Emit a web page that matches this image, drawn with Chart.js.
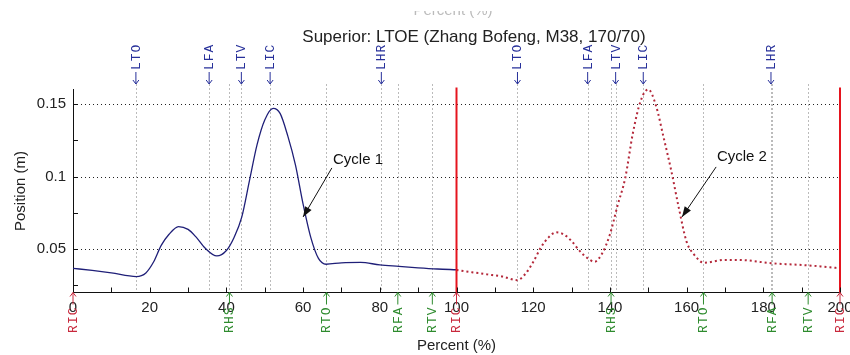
<!DOCTYPE html>
<html>
<head>
<meta charset="utf-8">
<script src="https://cdn.jsdelivr.net/npm/chart.js@4.4.0/dist/chart.umd.min.js"></script>
<style>
  html, body { margin: 0; padding: 0; background: #fff; }
  canvas { display: block; }
</style>
</head>
<body>
<canvas id="gait" width="850" height="355"></canvas>
<script>
// Toe marker vertical position over two gait cycles
const pct1 = [0, 5, 10, 16.5, 19, 21, 23, 25, 27.5, 30, 32, 34.5, 37.5, 40, 42, 44, 46, 48, 50, 52.2, 54, 56, 58, 60, 62, 64, 66, 70, 75, 80, 85, 90, 95, 100];
const pos1 = [0.0367, 0.0352, 0.0335, 0.031, 0.0335, 0.041, 0.0525, 0.060, 0.0655, 0.0635, 0.0585, 0.0505, 0.0452, 0.049, 0.058, 0.072, 0.097, 0.122, 0.139, 0.147, 0.1435, 0.128, 0.108, 0.081, 0.058, 0.0435, 0.0395, 0.0405, 0.0408, 0.039, 0.038, 0.037, 0.0362, 0.0357];
const pct2 = [100, 104, 108, 112, 115.8, 118, 120, 122, 124, 126, 128, 130, 132, 134, 136, 138, 140, 142, 144, 146, 148, 150, 152, 154, 156, 158, 160, 162, 164.5, 170, 175, 182, 190, 195, 200];
const pos2 = [0.0355, 0.034, 0.0325, 0.031, 0.0285, 0.033, 0.041, 0.051, 0.058, 0.0615, 0.060, 0.0555, 0.049, 0.044, 0.0412, 0.047, 0.060, 0.080, 0.099, 0.13, 0.152, 0.16, 0.149, 0.127, 0.104, 0.078, 0.055, 0.046, 0.0405, 0.0425, 0.0423, 0.0402, 0.039, 0.038, 0.0367];

// gait events: left foot on top, right foot below the axis
const topEvents = ['LTO', 'LFA', 'LTV', 'LIC', 'LHR', 'LTO', 'LFA', 'LTV', 'LIC', 'LHR'];
const topEventPct = [16.4, 35.5, 43.9, 51.4, 80.4, 115.9, 134.2, 141.5, 148.7, 182.0];
const bottomEvents = ['RIC', 'RHS', 'RTO', 'RFA', 'RTV', 'RIC', 'RHS', 'RTO', 'RFA', 'RTV', 'RIC'];
const bottomEventPct = [0, 40.8, 66.1, 84.7, 93.7, 100, 140.3, 164.4, 182.3, 191.7, 200];
const cycleEnds = [100, 200];

const chartTitle = 'Superior: LTOE (Zhang Bofeng, M38, 170/70)';

const notes = [
    { text: 'Cycle 1', at: [67.8, 0.1114], from: [67.5, 0.1059], to: [60.0, 0.0721] },
    { text: 'Cycle 2', at: [167.9, 0.1134], from: [167.7, 0.1066], to: [158.8, 0.0721] }
];

const SANS = '"Liberation Sans", Arial, sans-serif';
const MONO = '"Liberation Mono", "Courier New", monospace';

const isLabelledY = (v) => Math.abs(v / 0.05 - Math.round(v / 0.05)) < 1e-6;

function seg(ctx, x1, y1, x2, y2) {
    ctx.beginPath();
    ctx.moveTo(x1, y1);
    ctx.lineTo(x2, y2);
    ctx.stroke();
}

// rotated "<-LTO" style event tag; up = true puts the text above the tip
function eventTag(ctx, px, tipY, text, color, up) {
    ctx.save();
    ctx.translate(px, tipY);
    ctx.rotate(-Math.PI / 2);
    ctx.strokeStyle = color;
    ctx.fillStyle = color;
    ctx.lineWidth = 1;
    ctx.font = '13px ' + MONO;
    ctx.letterSpacing = '1px';
    ctx.textBaseline = 'middle';
    const s = up ? 1 : -1;
    seg(ctx, 0, 0, 12 * s, 0);
    seg(ctx, 0, 0, 4 * s, -3);
    seg(ctx, 0, 0, 4 * s, 3);
    ctx.textAlign = up ? 'left' : 'right';
    ctx.fillText(text, 14 * s, 0.5);
    ctx.restore();
}

const gaitDecor = {
    id: 'gaitDecor',
    beforeDraw(chart) {
        const ctx = chart.ctx;
        ctx.save();
        ctx.fillStyle = '#fff';
        ctx.fillRect(0, 0, chart.width, chart.height);
        ctx.restore();
    },
    beforeDatasetsDraw(chart) {
        const { ctx, chartArea: a, scales: { x, y } } = chart;
        ctx.save();
        ctx.lineWidth = 1;
        ctx.setLineDash([1, 3]);
        ctx.strokeStyle = '#222';
        y.ticks.forEach(t => {
            if (!isLabelledY(t.value)) return;
            const py = Math.round(y.getPixelForValue(t.value)) + 0.5;
            seg(ctx, a.left, py, a.right, py);
        });
        ctx.strokeStyle = '#777';
        [...topEventPct, ...bottomEventPct].forEach(v => {
            if (v === 0 || cycleEnds.includes(v)) return;
            const px = Math.round(x.getPixelForValue(v)) + 0.5;
            seg(ctx, px, a.top - 5, px, a.bottom);
        });
        ctx.restore();
    },
    afterDatasetsDraw(chart) {
        const { ctx, chartArea: a, scales: { x, y } } = chart;
        ctx.save();

        // cycle boundaries
        ctx.strokeStyle = '#e5141e';
        ctx.lineWidth = 2;
        cycleEnds.forEach(v => {
            const px = x.getPixelForValue(v);
            seg(ctx, px, a.top - 2, px, a.bottom);
        });

        // inward tick marks
        ctx.strokeStyle = '#111';
        ctx.lineWidth = 1;
        x.ticks.forEach(t => {
            const px = Math.round(x.getPixelForValue(t.value)) + 0.5;
            seg(ctx, px, a.bottom, px, a.bottom - 5);
        });
        y.ticks.forEach(t => {
            const py = Math.round(y.getPixelForValue(t.value)) + 0.5;
            seg(ctx, a.left, py, a.left + 5, py);
        });

        // event tags
        topEvents.forEach((name, i) => {
            eventTag(ctx, x.getPixelForValue(topEventPct[i]), a.top - 5.5, name, '#27309a', true);
        });
        bottomEvents.forEach((name, i) => {
            const col = name === 'RIC' ? '#c8283c' : '#2e8b2e';
            eventTag(ctx, x.getPixelForValue(bottomEventPct[i]), a.bottom, name, col, false);
        });

        // cycle notes with arrows
        ctx.fillStyle = '#111';
        ctx.strokeStyle = '#111';
        ctx.font = '15px ' + SANS;
        ctx.textAlign = 'left';
        ctx.textBaseline = 'middle';
        notes.forEach(n => {
            ctx.fillText(n.text, x.getPixelForValue(n.at[0]), y.getPixelForValue(n.at[1]));
            const x1 = x.getPixelForValue(n.from[0]), y1 = y.getPixelForValue(n.from[1]);
            const x2 = x.getPixelForValue(n.to[0]), y2 = y.getPixelForValue(n.to[1]);
            seg(ctx, x1, y1, x2, y2);
            const ang = Math.atan2(y2 - y1, x2 - x1);
            ctx.beginPath();
            ctx.moveTo(x2, y2);
            ctx.lineTo(x2 - 11 * Math.cos(ang - 0.35), y2 - 11 * Math.sin(ang - 0.35));
            ctx.lineTo(x2 - 11 * Math.cos(ang + 0.35), y2 - 11 * Math.sin(ang + 0.35));
            ctx.closePath();
            ctx.fill();
        });

        // title, plus the clipped label of an axis above it
        ctx.textAlign = 'center';
        ctx.textBaseline = 'alphabetic';
        ctx.fillStyle = '#bbb';
        ctx.fillText('Percent (%)', 453, 15);
        ctx.fillStyle = '#fff';
        ctx.fillRect(0, 0, chart.width, 11);
        ctx.fillStyle = '#222';
        ctx.font = '17px ' + SANS;
        ctx.fillText(chartTitle, 474, 42);

        ctx.restore();
    }
};

new Chart(document.getElementById('gait'), {
    type: 'line',
    data: {
        datasets: [
            {
                label: 'Cycle 1',
                data: pct1.map((p, i) => ({ x: p, y: pos1[i] })),
                borderColor: '#1f1f78',
                borderWidth: 1.3,
                pointRadius: 0,
                cubicInterpolationMode: 'monotone',
                clip: 6
            },
            {
                label: 'Cycle 2',
                data: pct2.map((p, i) => ({ x: p, y: pos2[i] })),
                borderColor: '#b4283a',
                borderWidth: 2,
                borderDash: [2, 3],
                pointRadius: 0,
                cubicInterpolationMode: 'monotone',
                clip: 6
            }
        ]
    },
    options: {
        responsive: false,
        animation: false,
        events: [],
        layout: { padding: { top: 89.5, right: 10, left: 0, bottom: 0 } },
        plugins: {
            legend: { display: false },
            tooltip: { enabled: false }
        },
        scales: {
            x: {
                type: 'linear',
                min: 0,
                max: 200,
                afterFit: (s) => { s.height = 62.5; s.paddingLeft = 0; s.paddingRight = 0; },
                grid: { display: false, drawTicks: false },
                border: { display: true, color: '#111', width: 1 },
                ticks: {
                    stepSize: 10,
                    autoSkip: false,
                    maxRotation: 0,
                    padding: 6,
                    color: '#222',
                    font: { family: SANS, size: 15 },
                    callback: (v) => (v % 20 === 0 ? String(v) : '')
                },
                title: {
                    display: true,
                    text: 'Percent (%)',
                    color: '#222',
                    font: { family: SANS, size: 15 },
                    padding: { top: 0, bottom: 0 }
                }
            },
            y: {
                min: 0.02,
                max: 0.16,
                afterFit: (s) => { s.width = 73; },
                grid: { display: false, drawTicks: false },
                border: { display: true, color: '#111', width: 1 },
                ticks: {
                    stepSize: 0.025,
                    includeBounds: false,
                    padding: 7,
                    color: '#222',
                    font: { family: SANS, size: 15 },
                    callback: (v) => (isLabelledY(v) ? String(+v.toFixed(3)) : '')
                },
                title: {
                    display: true,
                    text: 'Position (m)',
                    color: '#222',
                    font: { family: SANS, size: 15 },
                    padding: { top: 12, bottom: 0 }
                }
            }
        }
    },
    plugins: [gaitDecor]
});
</script>
</body>
</html>
